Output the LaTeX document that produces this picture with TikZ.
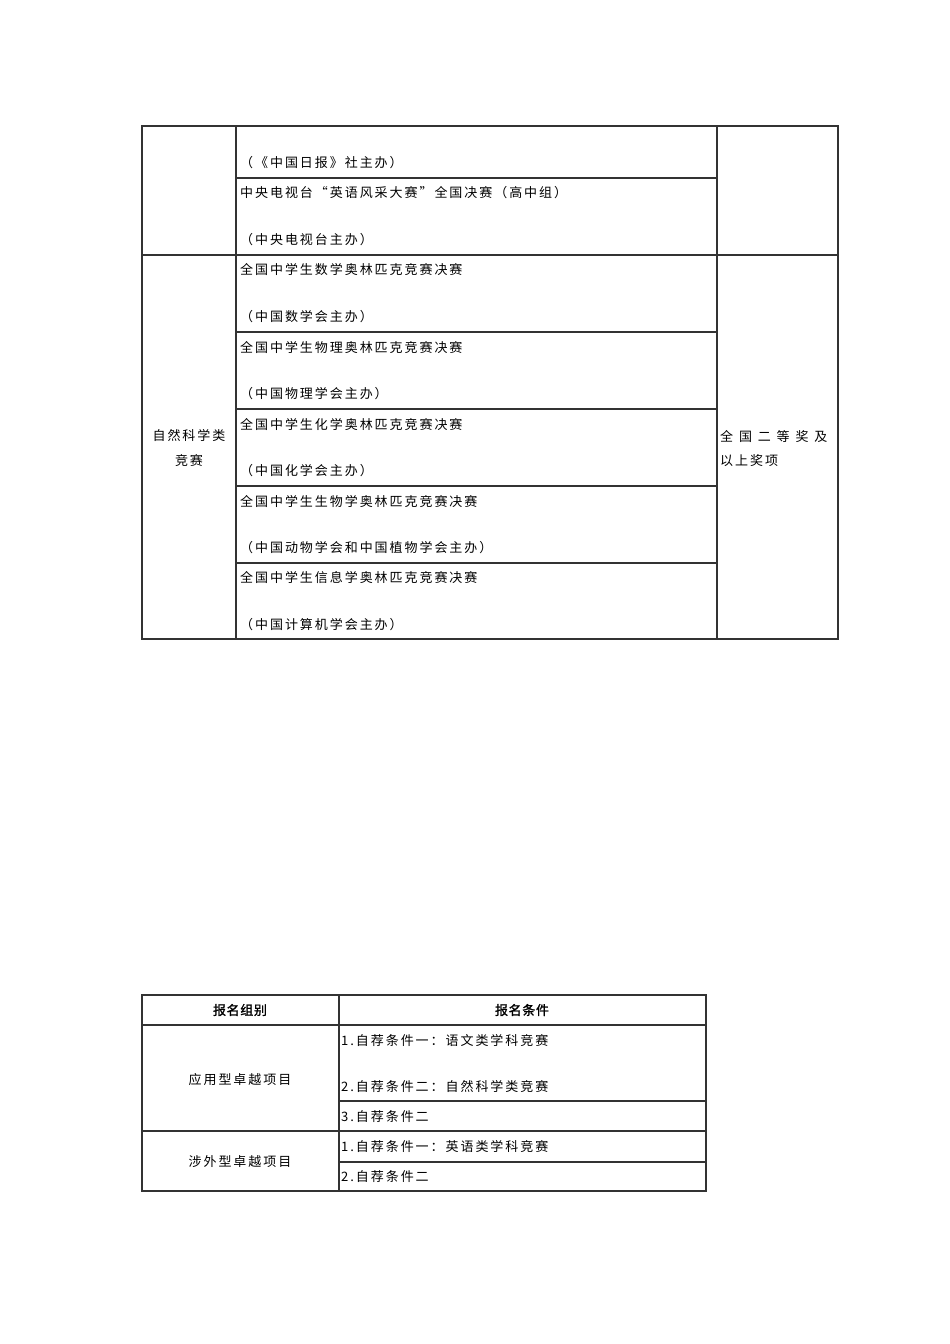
\documentclass[tikz,border=0pt]{standalone}
\usepackage{fontspec}
\newfontfamily\cjk{Noto Sans CJK SC}[LetterSpace=15]
\newfontfamily\cjkb{Noto Sans CJK SC}[LetterSpace=5,FakeBold=1.5]
\begin{document}
\begin{tikzpicture}[x=1pt,y=-1pt,
  ln/.style={line width=1.4pt,draw=black!80},
  tl/.style={anchor=west,inner sep=0pt,font=\cjk\fontsize{13}{15}\selectfont},
  tc/.style={anchor=center,inner sep=0pt,font=\cjk\fontsize{13}{15}\selectfont},
  th/.style={anchor=center,inner sep=0pt,font=\cjkb\fontsize{13}{15}\selectfont}]
\useasboundingbox (0,0) rectangle (950,1344);
% table 1
\draw[ln] (142,126) rectangle (838,639);
\draw[ln] (236,126) -- (236,639);
\draw[ln] (717,126) -- (717,639);
\draw[ln] (142,255) -- (838,255);
\foreach \y in {178,332,409,486,563} \draw[ln] (236,\y) -- (717,\y);
\node[tl] (a1) at (240,163) {（《中国日报》社主办）};
\node[tl] (a2) at (240,193) {中央电视台“英语风采大赛”全国决赛（高中组）};
\node[tl] (a3) at (240,240) {（中央电视台主办）};
\node[tl] (b1) at (240,270) {全国中学生数学奥林匹克竞赛决赛};
\node[tl] (b2) at (240,317) {（中国数学会主办）};
\node[tl] (c1) at (240,347) {全国中学生物理奥林匹克竞赛决赛};
\node[tl] (c2) at (240,394) {（中国物理学会主办）};
\node[tl] (d1) at (240,424) {全国中学生化学奥林匹克竞赛决赛};
\node[tl] (d2) at (240,471) {（中国化学会主办）};
\node[tl] (e1) at (240,501) {全国中学生生物学奥林匹克竞赛决赛};
\node[tl] (e2) at (240,548) {（中国动物学会和中国植物学会主办）};
\node[tl] (f1) at (240,578) {全国中学生信息学奥林匹克竞赛决赛};
\node[tl] (f2) at (240,625) {（中国计算机学会主办）};
\node[tc] (l1) at (189,436) {自然科学类};
\node[tc] (l2) at (189,461) {竞赛};
\node[tl,font=\cjk\fontsize{13}{15}\selectfont\addfontfeature{LetterSpace=45}] (r1) at (720,436) {全国二等奖及};
\node[tl] (r2) at (720,461) {以上奖项};
% table 2
\draw[ln] (142,995) rectangle (706,1191);
\draw[ln] (339,995) -- (339,1191);
\draw[ln] (142,1025) -- (706,1025);
\draw[ln] (142,1131) -- (706,1131);
\foreach \y in {1101,1162} \draw[ln] (339,\y) -- (706,\y);
\node[th] (h1) at (240,1010) {报名组别};
\node[th] (h2) at (522,1010) {报名条件};
\node[tc] (g1) at (240,1080) {应用型卓越项目};
\node[tc] (g2) at (240,1162) {涉外型卓越项目};
\node[tl] (p1) at (341,1040) {1.自荐条件一：语文类学科竞赛};
\node[tl] (p2) at (341,1087) {2.自荐条件二：自然科学类竞赛};
\node[tl] (p3) at (341,1117) {3.自荐条件二};
\node[tl] (q1) at (341,1147) {1.自荐条件一：英语类学科竞赛};
\node[tl] (q2) at (341,1177) {2.自荐条件二};
\end{tikzpicture}
\end{document}
